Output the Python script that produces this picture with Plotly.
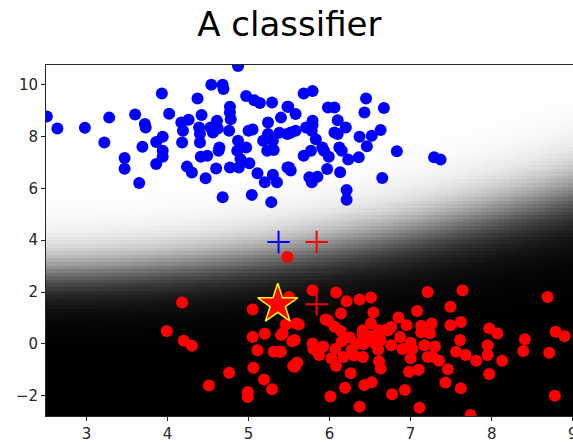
import numpy as np
import plotly.graph_objects as go

# Class 0 (blue) training points
blue_x = [2.51, 2.64, 2.98, 3.28, 3.22, 3.60, 3.72, 3.73, 3.47, 3.47, 3.65, 3.69, 3.86, 3.93,
          3.94, 3.94, 3.94, 3.86, 4.02, 4.17, 4.19, 4.18, 4.26, 4.24, 4.30, 4.37, 4.42, 4.39,
          4.40, 4.40, 4.41, 4.49, 4.47, 4.54, 4.68, 4.69, 4.53, 4.56, 4.61, 4.62, 4.64, 4.63,
          4.60, 4.68, 4.77, 4.77, 4.78, 4.76, 4.77, 4.87, 4.87, 4.86, 4.90, 4.88, 4.97, 4.97,
          5.00, 5.01, 5.04, 5.07, 5.14, 5.05, 5.11, 5.18, 5.20, 5.24, 5.24, 5.23, 5.28, 5.29,
          5.30, 5.31, 5.35, 5.30, 5.40, 5.38, 5.48, 5.48, 5.48, 5.49, 5.58, 5.52, 5.58, 5.50,
          5.52, 5.68, 5.79, 5.71, 5.79, 5.79, 5.78, 5.83, 5.77, 5.68, 5.91, 5.93, 5.99, 5.75,
          5.78, 5.85, 5.97, 5.98, 6.06, 6.10, 6.06, 6.10, 6.12, 6.15, 6.13, 6.20, 6.23, 6.21,
          6.21, 6.37, 6.36, 6.45, 6.43, 6.52, 6.46, 6.63, 6.67, 6.65, 6.83, 7.29, 7.37]
blue_y = [8.77, 8.31, 8.34, 8.73, 7.77, 8.85, 8.48, 8.35, 7.17, 6.76, 6.21, 7.61, 7.79, 9.66,
          7.99, 7.45, 7.22, 6.94, 8.88, 8.54, 8.22, 7.77, 8.65, 6.84, 6.61, 9.47, 8.83, 8.35,
          8.10, 7.77, 7.22, 7.26, 6.39, 10.00, 10.00, 9.83, 8.35, 8.16, 8.61, 8.31, 7.58, 7.45,
          6.77, 5.66, 9.15, 8.93, 8.67, 8.22, 6.81, 10.72, 7.84, 7.45, 7.13, 6.81, 9.56, 7.58,
          8.22, 6.97, 5.75, 9.40, 9.29, 8.27, 6.58, 7.84, 6.24, 8.54, 8.10, 7.45, 5.47, 9.31,
          7.84, 7.48, 6.24, 6.53, 8.73, 8.15, 9.15, 8.10, 6.81, 9.15, 8.87, 8.16, 8.22, 6.81,
          6.69, 9.66, 9.76, 8.35, 8.61, 8.45, 8.22, 7.90, 7.45, 7.26, 7.58, 7.45, 7.22, 6.43,
          6.24, 6.45, 6.75, 9.12, 9.12, 8.63, 8.16, 8.10, 7.58, 7.45, 6.62, 8.35, 7.11, 5.94,
          5.56, 7.99, 7.20, 9.47, 8.93, 8.03, 7.63, 8.25, 9.10, 6.40, 7.43, 7.20, 7.11]

# Class 1 (red) training points
red_x = [4.18, 3.99, 4.20, 4.30, 5.05, 5.05, 5.20, 5.40, 5.11, 5.31, 5.38, 5.06, 4.76, 4.51,
         5.19, 5.29, 4.99, 4.99, 5.48, 5.46, 5.50, 5.79, 6.08, 6.21, 6.37, 6.51, 6.54, 6.14,
         5.95, 5.62, 5.98, 6.06, 6.14, 6.51, 6.41, 6.61, 6.70, 6.85, 6.95, 7.08, 7.21, 7.64,
         7.49, 7.26, 7.49, 7.62, 7.13, 7.13, 7.24, 7.61, 7.97, 8.07, 7.95, 7.95, 8.13, 8.41,
         8.39, 8.69, 8.79, 8.90, 8.71, 8.78, 7.97, 7.74, 7.62, 7.43, 7.46, 7.56, 7.68, 7.81,
         7.35, 7.27, 7.21, 7.10, 6.98, 7.00, 6.93, 7.11, 6.77, 6.37, 6.52, 6.43, 6.19, 6.01,
         6.26, 6.08, 6.02, 5.87, 5.79, 5.80, 5.92, 6.07, 6.15, 6.17, 6.27, 6.25, 6.33, 6.30,
         6.41, 6.42, 6.41, 6.51, 6.56, 6.60, 6.61, 6.63, 6.72, 6.76, 6.87, 6.76, 6.63, 6.90,
         7.00, 7.02, 5.54, 5.42, 5.40, 5.55, 5.60, 7.17, 7.30, 5.59, 5.57, 5.57]
red_y = [1.60, 0.50, 0.12, -0.07, 1.33, 0.27, 0.39, 0.34, -0.24, -0.30, -0.30, -0.92, -1.11,
         -1.60, -1.37, -1.75, -1.85, -2.05, 3.35, 0.75, 1.81, 2.07, 1.98, 1.65, 1.71, 1.79,
         1.21, 1.17, 0.94, 0.75, 0.90, 0.66, 0.50, 0.79, 0.53, 0.53, 0.55, 1.02, 0.72, 1.27,
         2.00, 2.07, 1.43, 0.79, 0.72, 0.85, 0.70, 0.45, 0.41, 0.15, 0.60, 0.40, -0.05, -0.43,
         -0.65, 0.18, -0.27, 1.81, 0.47, 0.30, -0.34, -2.00, -1.16, -2.74, -1.71, -1.49, -0.98,
         -0.30, -0.43, -0.65, -0.65, -0.49, -0.50, -1.00, -1.07, -0.55, -1.78, -2.46, -1.94,
         -2.42, -1.48, -1.58, -1.69, -2.03, -1.13, -0.85, -0.55, -0.43, 0.02, -0.20, -0.10,
         -0.20, 0.10, -0.50, -0.23, 0.25, 0.00, -0.45, -0.50, 0.00, 0.35, 0.30, 0.02, -0.22,
         -0.68, -0.95, 0.53, 0.65, 0.27, -0.05, 0.15, -0.20, 0.05, -0.20, 0.10, 0.40, -0.30,
         -0.85, -0.72, -0.05, -0.10, 0.79, 0.15, -0.88]

# Class means and the query point
blue_mean = (5.37, 3.93)
red_mean = (5.84, 3.93)
red_center = (5.84, 1.53)
query = (5.36, 1.53)

# Decision surface: curved boundary y = b0 + b1*u + b2*u^2 (u = x - 2.5)
boundary_coef = (2.8, 0.05, 0.065)
sharpness = 1.8

x_range = [2.5, 9.004]
y_range = [-2.78, 10.76]
x_ticks = [3, 4, 5, 6, 7, 8, 9]
y_ticks = [-2, 0, 2, 4, 6, 8, 10]
y_tick_text = ["\u22122", "0", "2", "4", "6", "8", "10"]

gx = np.linspace(2.45, 9.55, 100)
gy = np.linspace(-2.85, 10.85, 100)
GX, GY = np.meshgrid(gx, gy)
U = GX - 2.5
b0, b1, b2 = boundary_coef
y_mid = b0 + b1 * U + b2 * U ** 2
slope = b1 + 2 * b2 * U
prob_blue = 1.0 / (1.0 + np.exp(-sharpness * (GY - y_mid) / np.sqrt(1 + slope ** 2)))

fig = go.Figure()
fig.add_trace(go.Heatmap(
    x=gx, y=gy, z=prob_blue, zmin=0, zmax=1,
    colorscale=[[0, "black"], [1, "white"]],
    showscale=False, zsmooth=False, hoverinfo="skip",
))
fig.add_trace(go.Scatter(
    x=blue_x, y=blue_y, mode="markers",
    marker=dict(color="#0000ff", size=12, line=dict(width=0)),
    showlegend=False,
))
fig.add_trace(go.Scatter(
    x=red_x, y=red_y, mode="markers",
    marker=dict(color="#ff0000", size=12, line=dict(width=0)),
    showlegend=False,
))
fig.add_trace(go.Scatter(
    x=[blue_mean[0]], y=[blue_mean[1]], mode="markers",
    marker=dict(symbol="cross-thin", size=16, line=dict(color="#0000ff", width=2)),
    showlegend=False,
))
fig.add_trace(go.Scatter(
    x=[red_mean[0], red_center[0]], y=[red_mean[1], red_center[1]], mode="markers",
    marker=dict(symbol="cross-thin", size=16, line=dict(color="#ff0000", width=2)),
    showlegend=False,
))
fig.add_trace(go.Scatter(
    x=[query[0]], y=[query[1]], mode="markers",
    marker=dict(symbol="star", size=30, color="#ff0000", line=dict(color="#ffff00", width=1.5)),
    showlegend=False,
))

axis_font = dict(family="DejaVu Sans", size=15, color="#262626")
fig.update_layout(
    width=573, height=442,
    margin=dict(l=46, r=0, t=65, b=26, autoexpand=False),
    paper_bgcolor="white", plot_bgcolor="white",
    title=dict(text="A classifier", x=0.505, xanchor="center", y=0.945, yanchor="middle",
               font=dict(family="DejaVu Sans", size=34, color="black")),
    xaxis=dict(range=x_range, tickvals=x_ticks, ticks="outside", ticklen=4,
               tickcolor="#262626", showline=True, linecolor="#262626", linewidth=1,
               mirror=True, showgrid=False, zeroline=False, tickfont=axis_font,
               ticklabeloverflow="allow", automargin=False),
    yaxis=dict(range=y_range, tickvals=y_ticks, ticktext=y_tick_text, ticks="outside",
               ticklen=4, tickcolor="#262626", showline=True, linecolor="#262626",
               linewidth=1, showgrid=False, zeroline=False, tickfont=axis_font,
               automargin=False),
)

fig.write_html("out.html")
